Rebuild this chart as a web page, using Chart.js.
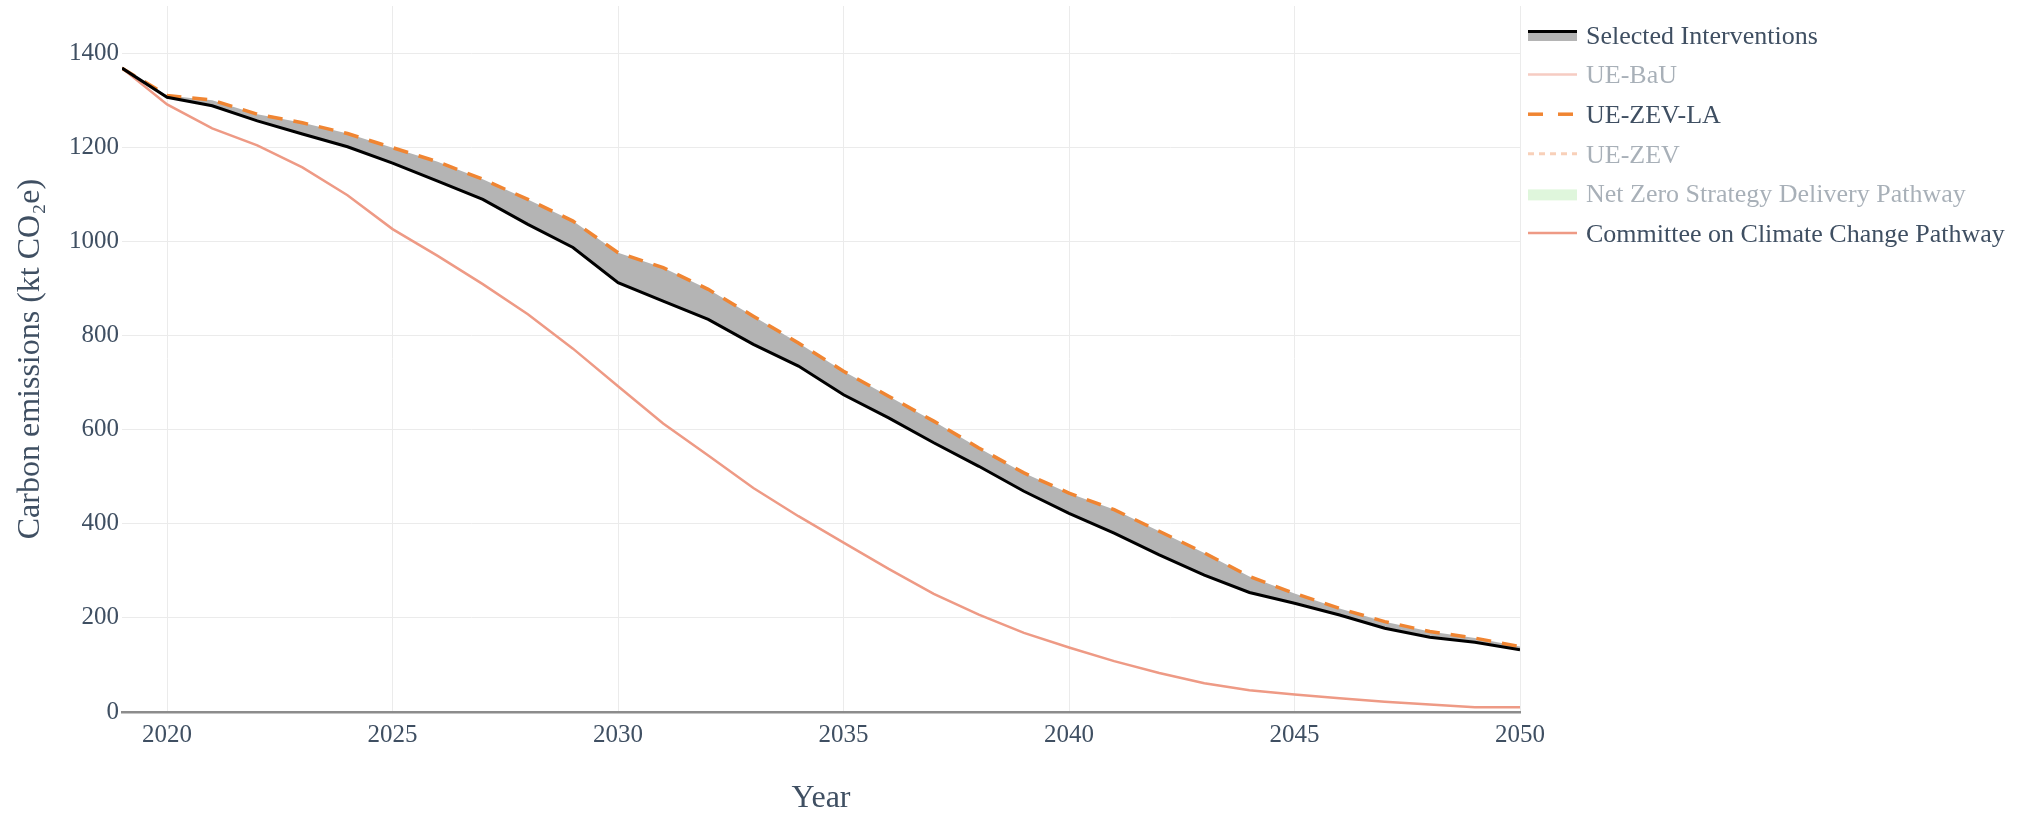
<!DOCTYPE html>
<html lang="en">
<head>
    <meta charset="UTF-8">
    <title>Carbon emissions pathways</title>
    <script src="https://cdn.jsdelivr.net/npm/chart.js@4.4.1/dist/chart.umd.min.js"></script>
    <style>
        body {
            margin: 0;
            background: #fff;
        }
        #wrap {
            width: 2042px;
            height: 818px;
        }
    </style>
</head>
<body>
    <div id="wrap"><canvas id="emissionsChart" width="2042" height="818"></canvas></div>

    <script>
        // values (kt CO2e)
        const years = [2019, 2020, 2021, 2022, 2023, 2024, 2025, 2026, 2027, 2028, 2029,
                       2030, 2031, 2032, 2033, 2034, 2035, 2036, 2037, 2038, 2039,
                       2040, 2041, 2042, 2043, 2044, 2045, 2046, 2047, 2048, 2049, 2050];

        const selectedInterventions = [1368, 1306, 1288, 1256, 1228, 1201, 1166, 1128, 1089, 1036, 987,
                                       912, 873, 834, 781, 735, 674, 625, 572, 522, 469,
                                       422, 380, 334, 291, 254, 231, 206, 178, 159, 148, 132];

        const ueZevLa = [1368, 1310, 1300, 1270, 1252, 1229, 1199, 1169, 1132, 1089, 1043,
                         976, 944, 898, 841, 784, 724, 671, 618, 561, 508,
                         465, 430, 384, 338, 288, 252, 220, 192, 171, 157, 139];

        const cccPathway = [1368, 1291, 1240, 1204, 1157, 1098, 1026, 969, 909, 845, 772,
                            692, 613, 545, 476, 416, 360, 304, 251, 207, 168,
                            137, 108, 83, 61, 46, 37, 29, 22, 16, 10, 10];

        // these traces are switched off in the reference, only their legend entries show
        const ueBau = [];
        const ueZev = [];
        const netZeroPathway = [];

        const xTicks = [2020, 2025, 2030, 2035, 2040, 2045, 2050];
        const yTicks = [0, 200, 400, 600, 800, 1000, 1200, 1400];

        const textColor = '#3f4f62';
        const fontFamily = "'Liberation Serif', 'Times New Roman', serif";

        function toPoints(values) {
            return values.map((y, i) => ({ x: years[i], y }));
        }

        // plotly-style legend on the right
        const sideLegend = {
            id: 'sideLegend',
            afterDraw(chart) {
                const ctx = chart.ctx;
                const x0 = 1528, x1 = 1577, textX = 1586;
                let rowY = 37;
                chart.data.datasets.forEach(ds => {
                    ctx.save();
                    ctx.globalAlpha = ds.hidden ? 0.5 : 1;
                    const kind = ds.legendSymbol || 'line';
                    if (kind === 'bandLine') {
                        ctx.fillStyle = ds.backgroundColor;
                        ctx.fillRect(x0, rowY - 4, x1 - x0, 8);
                        ctx.strokeStyle = ds.borderColor;
                        ctx.lineWidth = 3;
                        ctx.beginPath();
                        ctx.moveTo(x0, rowY - 5.5);
                        ctx.lineTo(x1, rowY - 5.5);
                        ctx.stroke();
                    } else if (kind === 'band') {
                        ctx.fillStyle = ds.backgroundColor;
                        ctx.fillRect(x0, rowY - 6, x1 - x0, 11);
                    } else {
                        ctx.strokeStyle = ds.borderColor;
                        ctx.lineWidth = ds.borderWidth;
                        ctx.setLineDash(ds.legendDash || ds.borderDash || []);
                        ctx.beginPath();
                        ctx.moveTo(x0, rowY - 2);
                        ctx.lineTo(x1, rowY - 2);
                        ctx.stroke();
                    }
                    ctx.setLineDash([]);
                    ctx.globalAlpha = ds.hidden ? 0.45 : 1;
                    ctx.font = '26px ' + fontFamily;
                    ctx.fillStyle = textColor;
                    ctx.textBaseline = 'middle';
                    ctx.fillText(ds.label, textX, rowY);
                    ctx.restore();
                    rowY += 39.6;
                });
            }
        };

        const ctx = document.getElementById('emissionsChart').getContext('2d');
        new Chart(ctx, {
            type: 'line',
            data: {
                datasets: [
                    {
                        label: 'Selected Interventions',
                        data: toPoints(selectedInterventions),
                        borderColor: '#000000',
                        borderWidth: 3,
                        backgroundColor: '#b4b4b4',
                        fill: 2,
                        legendSymbol: 'bandLine'
                    },
                    {
                        label: 'UE-BaU',
                        data: toPoints(ueBau),
                        borderColor: '#ee9a85',
                        borderWidth: 2.5,
                        hidden: true
                    },
                    {
                        label: 'UE-ZEV-LA',
                        data: toPoints(ueZevLa),
                        borderColor: '#f08532',
                        borderWidth: 3.5,
                        borderDash: [15, 11],
                        legendDash: [15, 15]
                    },
                    {
                        label: 'UE-ZEV',
                        data: toPoints(ueZev),
                        borderColor: '#f2a173',
                        borderWidth: 3,
                        borderDash: [6, 5],
                        hidden: true
                    },
                    {
                        label: 'Net Zero Strategy Delivery Pathway',
                        data: toPoints(netZeroPathway),
                        borderColor: 'rgba(0,0,0,0)',
                        borderWidth: 0,
                        backgroundColor: 'rgba(150,225,140,0.6)',
                        hidden: true,
                        legendSymbol: 'band'
                    },
                    {
                        label: 'Committee on Climate Change Pathway',
                        data: toPoints(cccPathway),
                        borderColor: '#ee9a85',
                        borderWidth: 2.5
                    }
                ]
            },
            options: {
                responsive: false,
                animation: false,
                devicePixelRatio: 1,
                elements: {
                    point: { radius: 0 },
                    line: { tension: 0 }
                },
                layout: {
                    padding: { top: 6, right: 522, left: 0, bottom: 0 }
                },
                plugins: {
                    legend: { display: false },
                    tooltip: { enabled: false },
                    filler: { drawTime: 'beforeDatasetsDraw' }
                },
                scales: {
                    x: {
                        type: 'linear',
                        min: 2019,
                        max: 2050,
                        afterBuildTicks: scale => { scale.ticks = xTicks.map(v => ({ value: v })); },
                        afterFit: scale => {
                            scale.height = 106;
                            scale.paddingLeft = 0;
                            scale.paddingRight = 0;
                        },
                        ticks: {
                            callback: v => String(v),
                            font: { family: fontFamily, size: 25 },
                            color: textColor,
                            padding: 8,
                            maxRotation: 0
                        },
                        grid: { color: '#ebebeb', lineWidth: 1, drawTicks: false },
                        border: { display: true, color: '#8c8c8c', width: 2.5 },
                        title: {
                            display: true,
                            text: 'Year',
                            font: { family: fontFamily, size: 32 },
                            color: textColor,
                            padding: { top: 0, bottom: 0 }
                        }
                    },
                    y: {
                        min: 0,
                        max: 1500,
                        afterBuildTicks: scale => { scale.ticks = yTicks.map(v => ({ value: v })); },
                        afterFit: scale => {
                            scale.width = 122;
                            scale.paddingTop = 0;
                            scale.paddingBottom = 0;
                        },
                        ticks: {
                            callback: v => String(v),
                            font: { family: fontFamily, size: 25 },
                            color: textColor,
                            padding: 3
                        },
                        grid: {
                            color: c => (c.tick && c.tick.value === 0) ? 'rgba(0,0,0,0)' : '#ebebeb',
                            lineWidth: 1,
                            drawTicks: false
                        },
                        border: { display: false },
                        title: {
                            display: true,
                            text: 'Carbon emissions (kt CO₂e)',
                            font: { family: fontFamily, size: 32 },
                            color: textColor,
                            padding: { top: 11, bottom: 0 }
                        }
                    }
                }
            },
            plugins: [sideLegend]
        });
    </script>
</body>
</html>
